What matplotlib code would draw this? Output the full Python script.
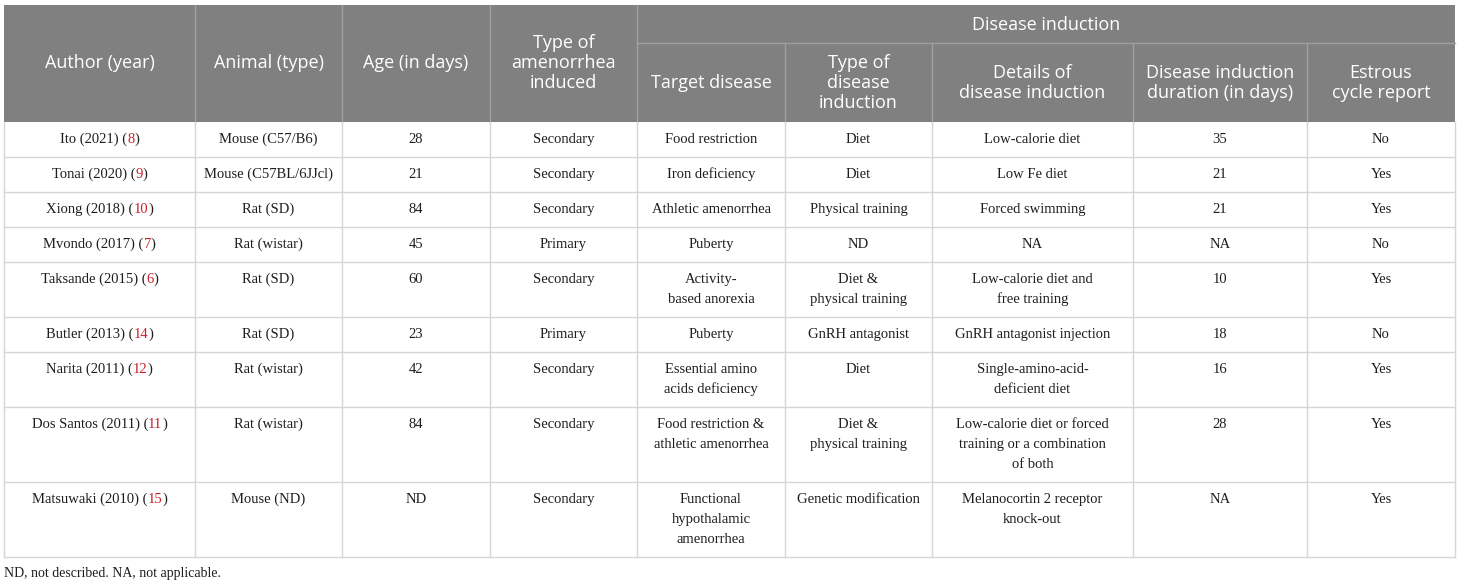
import matplotlib
matplotlib.use("Agg")
import matplotlib.pyplot as plt
from matplotlib.patches import Rectangle

# table contents
authors = ["Ito (2021)", "Tonai (2020)", "Xiong (2018)", "Mvondo (2017)", "Taksande (2015)",
           "Butler (2013)", "Narita (2011)", "Dos Santos (2011)", "Matsuwaki (2010)"]
refs = ["8", "9", "10", "7", "6", "14", "12", "11", "15"]
animals = ["Mouse (C57/B6)", "Mouse (C57BL/6JJcl)", "Rat (SD)", "Rat (wistar)", "Rat (SD)",
           "Rat (SD)", "Rat (wistar)", "Rat (wistar)", "Mouse (ND)"]
ages = ["28", "21", "84", "45", "60", "23", "42", "84", "ND"]
amenorrhea = ["Secondary", "Secondary", "Secondary", "Primary", "Secondary",
              "Primary", "Secondary", "Secondary", "Secondary"]
target_disease = ["Food restriction", "Iron deficiency", "Athletic amenorrhea", "Puberty",
                  "Activity-\nbased anorexia", "Puberty", "Essential amino\nacids deficiency",
                  "Food restriction &\nathletic amenorrhea", "Functional\nhypothalamic\namenorrhea"]
induction_type = ["Diet", "Diet", "Physical training", "ND", "Diet &\nphysical training",
                  "GnRH antagonist", "Diet", "Diet &\nphysical training", "Genetic modification"]
induction_details = ["Low-calorie diet", "Low Fe diet", "Forced swimming", "NA",
                     "Low-calorie diet and\nfree training", "GnRH antagonist injection",
                     "Single-amino-acid-\ndeficient diet",
                     "Low-calorie diet or forced\ntraining or a combination\nof both",
                     "Melanocortin 2 receptor\nknock-out"]
durations = ["35", "21", "21", "NA", "10", "18", "16", "28", "NA"]
estrous = ["No", "Yes", "Yes", "No", "Yes", "No", "Yes", "Yes", "Yes"]

headers = ["Author (year)", "Animal (type)", "Age (in days)", "Type of\namenorrhea\ninduced",
           "Target disease", "Type of\ndisease\ninduction", "Details of\ndisease induction",
           "Disease induction\nduration (in days)", "Estrous\ncycle report"]
group_header = "Disease induction"
footnote = "ND, not described. NA, not applicable."

# layout (pixels)
col_x = [4, 195, 342, 490, 637, 785, 932, 1133, 1307, 1455]
top, mid, head_bot = 5, 43, 122
HEAD_BG = "#808080"
HEAD_LINE = "#a0a0a0"
GRID = "#d6d6d6"
RED = "#c8202c"
TXT = "#1e1e1e"
serif = ["Liberation Serif", "DejaVu Serif"]
sans = ["Open Sans", "DejaVu Sans"]

fig = plt.figure(figsize=(14.6, 5.83), dpi=100)
ax = fig.add_axes([0, 0, 1, 1])
ax.set_xlim(0, 1460)
ax.set_ylim(583, 0)
ax.axis("off")

# header background
ax.add_patch(Rectangle((col_x[0], top), col_x[-1] - col_x[0], head_bot - top,
                       facecolor=HEAD_BG, edgecolor="none"))
for i, x in enumerate(col_x[1:-1], start=1):
    y0 = top if i <= 4 else mid
    ax.plot([x, x], [y0, head_bot], color=HEAD_LINE, lw=1)
ax.plot([col_x[4], col_x[-1]], [mid, mid], color=HEAD_LINE, lw=1)

ax.text((col_x[4] + col_x[-1]) / 2, (top + mid) / 2 + 1, group_header, ha="center", va="center",
        color="white", fontsize=13, family=sans)
for i, h in enumerate(headers):
    lines = h.split("\n")
    y0 = top if i < 4 else mid
    cy = (y0 + head_bot) / 2
    cx = (col_x[i] + col_x[i + 1]) / 2
    for k, ln in enumerate(lines):
        ax.text(cx, cy + (k - (len(lines) - 1) / 2) * 20, ln, ha="center", va="center",
                color="white", fontsize=13, family=sans)

# body rows
columns = [animals, ages, amenorrhea, target_disease, induction_type,
           induction_details, durations, estrous]
fig.canvas.draw()
renderer = fig.canvas.get_renderer()
fs = 10.5


def text_width(s):
    t = ax.text(0, 0, s, fontsize=fs, family=serif)
    w = t.get_window_extent(renderer).width
    t.remove()
    return w


y = head_bot
row_lines = []
for r in range(len(authors)):
    cells = [c[r] for c in columns]
    nlines = max(len(c.split("\n")) for c in cells)
    h = 15 + 20 * nlines
    # author with red reference number
    prefix = authors[r] + " ("
    full = prefix + refs[r] + ")"
    x0 = (col_x[0] + col_x[1]) / 2 - text_width(full) / 2
    ax.text(x0, y + 17.5, prefix, ha="left", va="center", color=TXT, fontsize=fs, family=serif)
    ax.text(x0 + text_width(prefix + refs[r]), y + 17.5, refs[r], ha="right", va="center",
            color=RED, fontsize=fs, family=serif)
    ax.text(x0 + text_width(full), y + 17.5, ")", ha="right", va="center", color=TXT,
            fontsize=fs, family=serif)
    for j, cell in enumerate(cells):
        cx = (col_x[j + 1] + col_x[j + 2]) / 2
        for k, ln in enumerate(cell.split("\n")):
            ax.text(cx, y + 17.5 + 20 * k, ln, ha="center", va="center", color=TXT,
                    fontsize=fs, family=serif)
    y += h
    row_lines.append(y)

bottom = y
for ly in row_lines:
    ax.plot([col_x[0], col_x[-1]], [ly, ly], color=GRID, lw=1)
for x in col_x:
    ax.plot([x, x], [head_bot, bottom], color=GRID, lw=1)

ax.text(col_x[0], bottom + 16, footnote, ha="left", va="center", color=TXT,
        fontsize=10, family=serif)

fig.savefig("out.png", dpi=100)
